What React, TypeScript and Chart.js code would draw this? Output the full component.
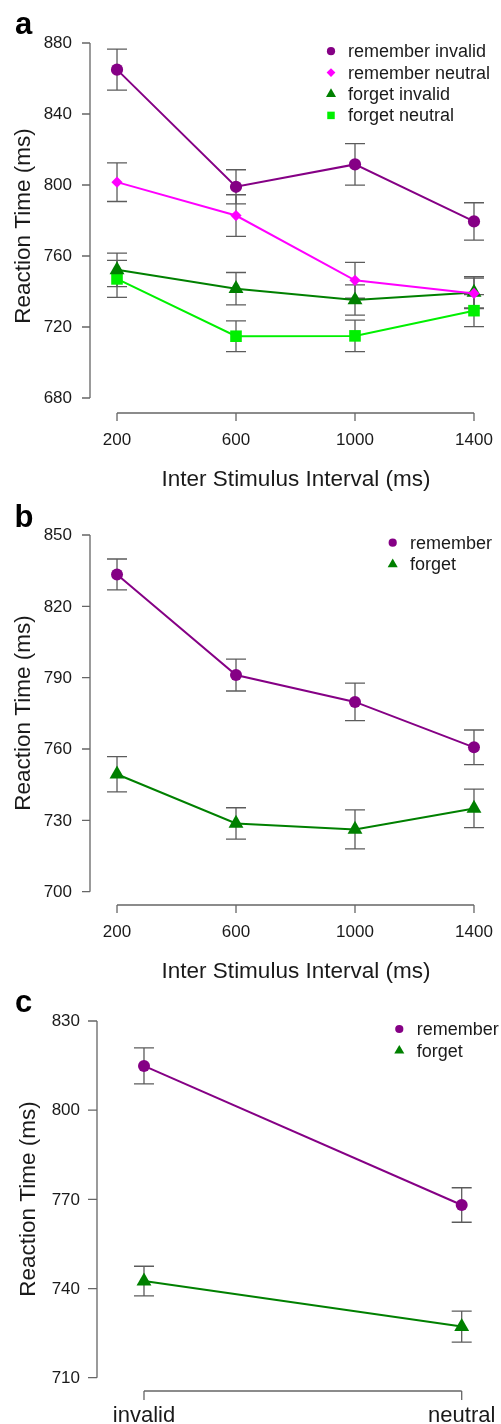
import React, { useEffect, useRef } from "react";
import { Chart, registerables } from "chart.js";

Chart.register(...registerables);

const FONT = '"Liberation Sans", Arial, Helvetica, sans-serif';

// ---------- Panel a ----------
const isiValues = [200, 600, 1000, 1400];
const isiTickLabels = ["200", "600", "1000", "1400"];
const aYTicks = [680, 720, 760, 800, 840, 880];
const aRememberInvalid = [865, 799, 811.6, 779.5];
const aRememberInvalidSe = [11.5, 9.6, 11.7, 10.5];
const aRememberNeutral = [801.6, 782.8, 746.3, 738.9];
const aRememberNeutralSe = [10.9, 11.7, 10.1, 8.6];
const aForgetInvalid = [752.2, 741.6, 735.2, 739.5];
const aForgetInvalidSe = [9.4, 9.1, 8.5, 8.8];
const aForgetNeutral = [747.1, 714.8, 715, 729.2];
const aForgetNeutralSe = [10.4, 8.7, 8.9, 9];

// ---------- Panel b ----------
const bYTicks = [700, 730, 760, 790, 820, 850];
const bRemember = [833.4, 791.1, 779.8, 760.7];
const bRememberSe = [6.5, 6.7, 7.9, 7.3];
const bForget = [749.4, 728.7, 726.2, 735];
const bForgetSe = [7.4, 6.6, 8.2, 8.1];

// ---------- Panel c ----------
const cueCategories = ["invalid", "neutral"];
const cYTicks = [710, 740, 770, 800, 830];
const cRemember = [814.9, 768.1];
const cRememberSe = [6.05, 5.8];
const cForget = [742.5, 727.2];
const cForgetSe = [5, 5.2];

const PURPLE = "#850085";
const MAGENTA = "#FF00FF";
const GREEN = "#008000";
const LIME = "#00F000";

type Series = {
  label: string;
  values: number[];
  se: number[];
  color: string;
  style: string;
  radius: number;
  legendR: number;
};

type PanelCfg = {
  top: number;
  height: number;
  pad: { left: number; top: number; right: number; bottom: number };
  xMin: number;
  xMax: number;
  yMin: number;
  yMax: number;
  xValues: number[];
  xTickLabels: string[];
  xLabelFont: number;
  xLabelBaselineOffset: number;
  xTickLen: number;
  yTicks: number[];
  yTickLen: number;
  yLabelGap: number;
  xTitle?: string;
  xTitleX?: number;
  xTitleY?: number;
  yTitleX: number;
  yTitleY: number;
  letter: string;
  letterX: number;
  letterY: number;
  legendMarkerX: number;
  legendTextX: number;
  legendRows: number[];
  series: Series[];
};

function drawMarker(ctx: CanvasRenderingContext2D, style: string, x: number, y: number, r: number, color: string) {
  ctx.fillStyle = color;
  ctx.beginPath();
  if (style === "circle") {
    ctx.arc(x, y, r, 0, Math.PI * 2);
  } else if (style === "rectRot") {
    ctx.moveTo(x, y - r);
    ctx.lineTo(x + r, y);
    ctx.lineTo(x, y + r);
    ctx.lineTo(x - r, y);
    ctx.closePath();
  } else if (style === "triangle") {
    ctx.moveTo(x, y - r);
    ctx.lineTo(x + r * 0.866, y + r * 0.5);
    ctx.lineTo(x - r * 0.866, y + r * 0.5);
    ctx.closePath();
  } else {
    const s = r * Math.SQRT1_2;
    ctx.rect(x - s, y - s, 2 * s, 2 * s);
  }
  ctx.fill();
}

function makePlugin(cfg: PanelCfg) {
  return {
    id: "rstyle",
    beforeDatasetsDraw(chart: any) {
      const ctx: CanvasRenderingContext2D = chart.ctx;
      const xs = chart.scales.x;
      const ys = chart.scales.y;
      ctx.save();
      ctx.strokeStyle = "#5c5c5c";
      ctx.lineWidth = 1.3;
      cfg.series.forEach((s) => {
        s.values.forEach((v, i) => {
          const px = xs.getPixelForValue(cfg.xValues[i]);
          const t = ys.getPixelForValue(v + s.se[i]);
          const b = ys.getPixelForValue(v - s.se[i]);
          ctx.beginPath();
          ctx.moveTo(px, t);
          ctx.lineTo(px, b);
          ctx.moveTo(px - 10, t);
          ctx.lineTo(px + 10, t);
          ctx.moveTo(px - 10, b);
          ctx.lineTo(px + 10, b);
          ctx.stroke();
        });
      });
      ctx.restore();
    },
    afterDraw(chart: any) {
      const ctx: CanvasRenderingContext2D = chart.ctx;
      const xs = chart.scales.x;
      const ys = chart.scales.y;
      const area = chart.chartArea;
      ctx.save();
      ctx.strokeStyle = "#666666";
      ctx.lineWidth = 1.3;
      ctx.fillStyle = "#1a1a1a";

      // y axis
      const ax = area.left;
      const yTopPx = ys.getPixelForValue(Math.max(...cfg.yTicks));
      const yBotPx = ys.getPixelForValue(Math.min(...cfg.yTicks));
      ctx.beginPath();
      ctx.moveTo(ax, yTopPx);
      ctx.lineTo(ax, yBotPx);
      cfg.yTicks.forEach((t) => {
        const py = ys.getPixelForValue(t);
        ctx.moveTo(ax - cfg.yTickLen, py);
        ctx.lineTo(ax, py);
      });
      ctx.stroke();
      ctx.font = `17px ${FONT}`;
      ctx.textAlign = "right";
      ctx.textBaseline = "middle";
      cfg.yTicks.forEach((t) => {
        const py = ys.getPixelForValue(t);
        ctx.fillText(String(t), ax - cfg.yLabelGap, py + 0.5);
      });

      // x axis
      const ay = area.bottom;
      const xL = xs.getPixelForValue(cfg.xValues[0]);
      const xR = xs.getPixelForValue(cfg.xValues[cfg.xValues.length - 1]);
      ctx.beginPath();
      ctx.moveTo(xL, ay);
      ctx.lineTo(xR, ay);
      cfg.xValues.forEach((v) => {
        const px = xs.getPixelForValue(v);
        ctx.moveTo(px, ay);
        ctx.lineTo(px, ay + cfg.xTickLen);
      });
      ctx.stroke();
      ctx.font = `${cfg.xLabelFont}px ${FONT}`;
      ctx.textAlign = "center";
      ctx.textBaseline = "alphabetic";
      cfg.xValues.forEach((v, i) => {
        const px = xs.getPixelForValue(v);
        ctx.fillText(cfg.xTickLabels[i], px, ay + cfg.xLabelBaselineOffset);
      });

      // x title
      if (cfg.xTitle) {
        ctx.font = `22.5px ${FONT}`;
        ctx.textAlign = "center";
        ctx.fillText(cfg.xTitle, cfg.xTitleX as number, cfg.xTitleY as number);
      }

      // y title
      ctx.save();
      ctx.translate(cfg.yTitleX, cfg.yTitleY);
      ctx.rotate(-Math.PI / 2);
      ctx.font = `22.5px ${FONT}`;
      ctx.textAlign = "center";
      ctx.textBaseline = "alphabetic";
      ctx.fillText("Reaction Time (ms)", 0, 0);
      ctx.restore();

      // panel letter
      ctx.fillStyle = "#000000";
      ctx.font = `bold 31px ${FONT}`;
      ctx.textAlign = "left";
      ctx.textBaseline = "alphabetic";
      ctx.fillText(cfg.letter, cfg.letterX, cfg.letterY);

      // legend
      cfg.series.forEach((s, i) => {
        const y = cfg.legendRows[i];
        drawMarker(ctx, s.style, cfg.legendMarkerX, y, s.legendR, s.color);
        ctx.fillStyle = "#1a1a1a";
        ctx.font = `18px ${FONT}`;
        ctx.textAlign = "left";
        ctx.textBaseline = "middle";
        ctx.fillText(s.label, cfg.legendTextX, y + 1);
      });
      ctx.restore();
    },
  };
}

const panelA: PanelCfg = {
  top: 0,
  height: 495,
  pad: { left: 90, top: 43, right: 0, bottom: 82 },
  xMin: 109.2,
  xMax: 1490.8,
  yMin: 671.55,
  yMax: 880,
  xValues: isiValues,
  xTickLabels: isiTickLabels,
  xLabelFont: 17,
  xLabelBaselineOffset: 32,
  xTickLen: 8,
  yTicks: aYTicks,
  yTickLen: 8,
  yLabelGap: 18,
  xTitle: "Inter Stimulus Interval (ms)",
  xTitleX: 296,
  xTitleY: 486,
  yTitleX: 30,
  yTitleY: 226,
  letter: "a",
  letterX: 15,
  letterY: 33.5,
  legendMarkerX: 331,
  legendTextX: 348,
  legendRows: [51.2, 72.6, 94, 115.4],
  series: [
    { label: "remember invalid", values: aRememberInvalid, se: aRememberInvalidSe, color: PURPLE, style: "circle", radius: 6.1, legendR: 4.1 },
    { label: "remember neutral", values: aRememberNeutral, se: aRememberNeutralSe, color: MAGENTA, style: "rectRot", radius: 5.6, legendR: 4.4 },
    { label: "forget invalid", values: aForgetInvalid, se: aForgetInvalidSe, color: GREEN, style: "triangle", radius: 8.6, legendR: 5.8 },
    { label: "forget neutral", values: aForgetNeutral, se: aForgetNeutralSe, color: LIME, style: "rect", radius: 8.2, legendR: 5.3 },
  ],
};

const panelB: PanelCfg = {
  top: 495,
  height: 490,
  pad: { left: 90, top: 40, right: 0, bottom: 80 },
  xMin: 109.2,
  xMax: 1490.8,
  yMin: 694.4,
  yMax: 850,
  xValues: isiValues,
  xTickLabels: isiTickLabels,
  xLabelFont: 17,
  xLabelBaselineOffset: 32,
  xTickLen: 8,
  yTicks: bYTicks,
  yTickLen: 8,
  yLabelGap: 18,
  xTitle: "Inter Stimulus Interval (ms)",
  xTitleX: 296,
  xTitleY: 483,
  yTitleX: 30,
  yTitleY: 218,
  letter: "b",
  letterX: 14.5,
  letterY: 31.5,
  legendMarkerX: 392.7,
  legendTextX: 410,
  legendRows: [47.7, 69.3],
  series: [
    { label: "remember", values: bRemember, se: bRememberSe, color: PURPLE, style: "circle", radius: 6, legendR: 4.1 },
    { label: "forget", values: bForget, se: bForgetSe, color: GREEN, style: "triangle", radius: 8.6, legendR: 5.8 },
  ],
};

const panelC: PanelCfg = {
  top: 985,
  height: 439,
  pad: { left: 97, top: 36, right: 0, bottom: 33 },
  xMin: 0.8521,
  xMax: 2.1237,
  yMin: 705.53,
  yMax: 830,
  xValues: [1, 2],
  xTickLabels: cueCategories,
  xLabelFont: 22,
  xLabelBaselineOffset: 30.5,
  xTickLen: 9,
  yTicks: cYTicks,
  yTickLen: 9,
  yLabelGap: 17,
  yTitleX: 35,
  yTitleY: 214,
  letter: "c",
  letterX: 15,
  letterY: 26.5,
  legendMarkerX: 399.3,
  legendTextX: 416.7,
  legendRows: [44, 65.7],
  series: [
    { label: "remember", values: cRemember, se: cRememberSe, color: PURPLE, style: "circle", radius: 6, legendR: 4.1 },
    { label: "forget", values: cForget, se: cForgetSe, color: GREEN, style: "triangle", radius: 8.6, legendR: 5.8 },
  ],
};

function Panel({ cfg }: { cfg: PanelCfg }) {
  const ref = useRef<HTMLCanvasElement | null>(null);
  useEffect(() => {
    const canvas = ref.current;
    if (!canvas) return;
    const chart = new Chart(canvas, {
      type: "line",
      data: {
        datasets: cfg.series.map((s) => ({
          label: s.label,
          data: s.values.map((v, i) => ({ x: cfg.xValues[i], y: v })),
          borderColor: s.color,
          backgroundColor: s.color,
          borderWidth: 2,
          pointStyle: s.style as any,
          pointRadius: s.radius,
          pointHoverRadius: s.radius,
          pointBackgroundColor: s.color,
          pointBorderColor: s.color,
          pointBorderWidth: 0,
          tension: 0,
          fill: false,
          clip: false as any,
        })),
      },
      options: {
        responsive: false,
        maintainAspectRatio: false,
        animation: false,
        events: [],
        layout: { padding: cfg.pad, autoPadding: false } as any,
        plugins: {
          legend: { display: false },
          tooltip: { enabled: false },
          title: { display: false },
        },
        scales: {
          x: { type: "linear", display: false, min: cfg.xMin, max: cfg.xMax },
          y: { type: "linear", display: false, min: cfg.yMin, max: cfg.yMax },
        },
      },
      plugins: [makePlugin(cfg) as any],
    });
    return () => chart.destroy();
  }, [cfg]);
  return (
    <canvas
      ref={ref}
      width={501}
      height={cfg.height}
      style={{ position: "absolute", left: 0, top: cfg.top, width: 501, height: cfg.height, display: "block" }}
    />
  );
}

export default function App() {
  return (
    <div style={{ position: "absolute", left: 0, top: 0, width: 501, height: 1424, background: "#ffffff", overflow: "hidden" }}>
      <Panel cfg={panelA} />
      <Panel cfg={panelB} />
      <Panel cfg={panelC} />
    </div>
  );
}
